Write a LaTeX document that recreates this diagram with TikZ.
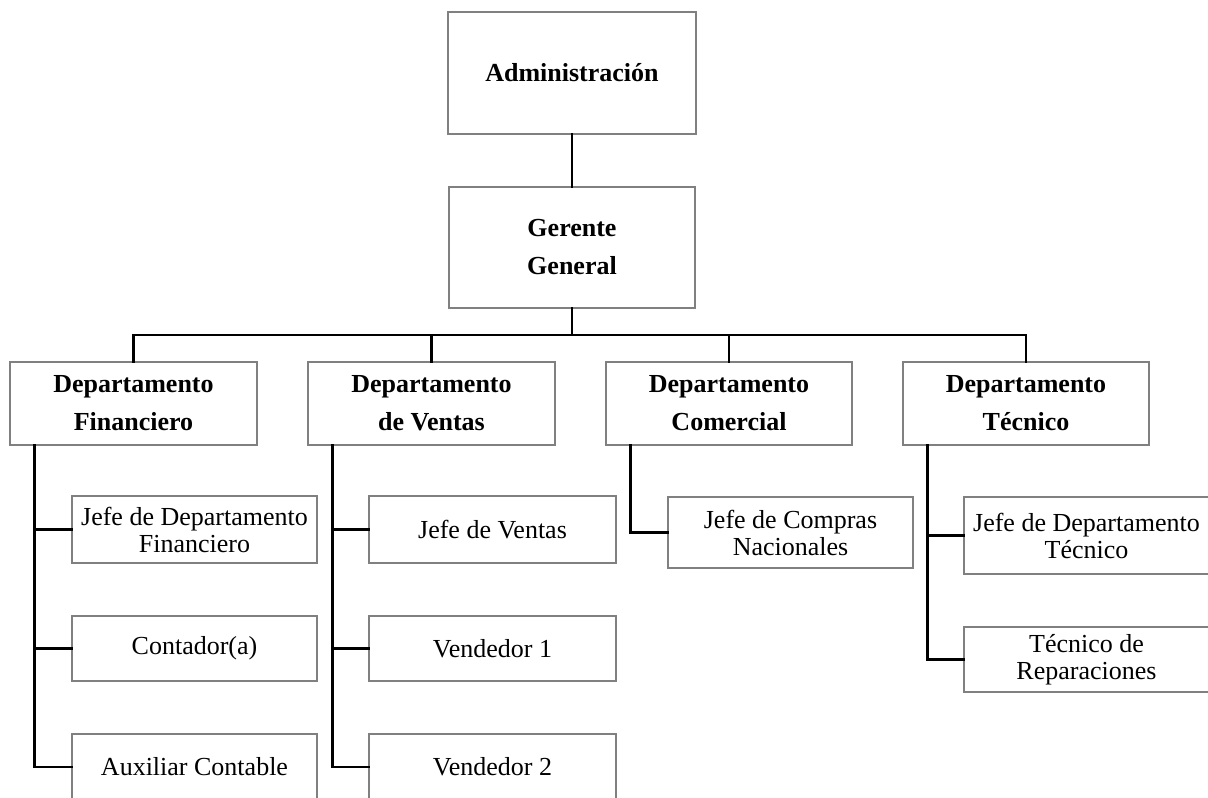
\documentclass[tikz,border=0pt]{standalone}
\usepackage{fontspec}
\setmainfont{Liberation Serif}
\definecolor{boxgray}{HTML}{808080}
\tikzset{
  box/.style={draw=boxgray, line width=1.3pt, inner sep=0pt, align=center, fill=white},
  hbox/.style={box, font=\fontsize{26}{38}\selectfont\bfseries},
  sbox/.style={box, font=\fontsize{26}{27}\selectfont},
  conn/.style={draw=black, line width=2.6pt, line cap=rect},
}
\begin{document}
\begin{tikzpicture}[x=1pt,y=-1pt]
\useasboundingbox (0,0) rectangle (1208,798);
\clip (0,0) rectangle (1208,798);
\fill[white] (0,0) rectangle (1208,798);
% top
\node[hbox, minimum width=248pt, minimum height=122pt] (adm) at (572,73) {Administración};
\node[hbox, minimum width=246pt, minimum height=121pt] (ger) at (572,247.5) {Gerente\\General};
% departments
\node[hbox, minimum width=247pt, minimum height=83pt] (fin) at (133.5,403.5) {Departamento\\Financiero};
\node[hbox, minimum width=247pt, minimum height=83pt] (ven) at (431.5,403.5) {Departamento\\de Ventas};
\node[hbox, minimum width=246pt, minimum height=83pt] (com) at (729,403.5) {Departamento\\Comercial};
\node[hbox, minimum width=246pt, minimum height=83pt] (tec) at (1026,403.5) {Departamento\\Técnico};
% financiero subs
\node[sbox, minimum width=245pt, minimum height=67pt] (f1) at (194.5,529.5) {Jefe de Departamento\\Financiero};
\node[sbox, minimum width=245pt, minimum height=65pt] (f2) at (194.5,648.5) {Contador(a)};
\node[sbox, minimum width=245pt, minimum height=66pt] (f3) at (194.5,767) {Auxiliar Contable};
% ventas subs
\node[sbox, minimum width=247pt, minimum height=67pt] (v1) at (492.5,529.5) {Jefe de Ventas};
\node[sbox, minimum width=247pt, minimum height=65pt] (v2) at (492.5,648.5) {Vendedor 1};
\node[sbox, minimum width=247pt, minimum height=66pt] (v3) at (492.5,767) {Vendedor 2};
% comercial sub
\node[sbox, minimum width=245pt, minimum height=71pt] (c1) at (790.5,532.5) {Jefe de Compras\\Nacionales};
% tecnico subs
\node[sbox, minimum width=245pt, minimum height=77pt] (t1) at (1086.5,535.5) {Jefe de Departamento\\Técnico};
\node[sbox, minimum width=245pt, minimum height=65pt] (t2) at (1086.5,659.5) {Técnico de\\Reparaciones};
% connectors
\coordinate (bus) at (572,335);
\draw[conn] (adm.south) -- (ger.north);
\draw[conn] (ger.south) -- (bus);
\draw[conn] (fin.north) |- (bus) -| (tec.north);
\draw[conn] (ven.north) -- (ven.north |- bus);
\draw[conn] (com.north) -- (com.north |- bus);
\coordinate (fx) at ([xshift=25pt]fin.south west);
\coordinate (vx) at ([xshift=25pt]ven.south west);
\coordinate (cx) at ([xshift=25pt]com.south west);
\coordinate (tx) at ([xshift=25pt]tec.south west);
\draw[conn] (fx) |- (f1.west);
\draw[conn] (fx) |- (f2.west);
\draw[conn] (fx) |- (f3.west);
\draw[conn] (vx) |- (v1.west);
\draw[conn] (vx) |- (v2.west);
\draw[conn] (vx) |- (v3.west);
\draw[conn] (cx) |- (c1.west);
\draw[conn] (tx) |- (t1.west);
\draw[conn] (tx) |- (t2.west);
\end{tikzpicture}
\end{document}
